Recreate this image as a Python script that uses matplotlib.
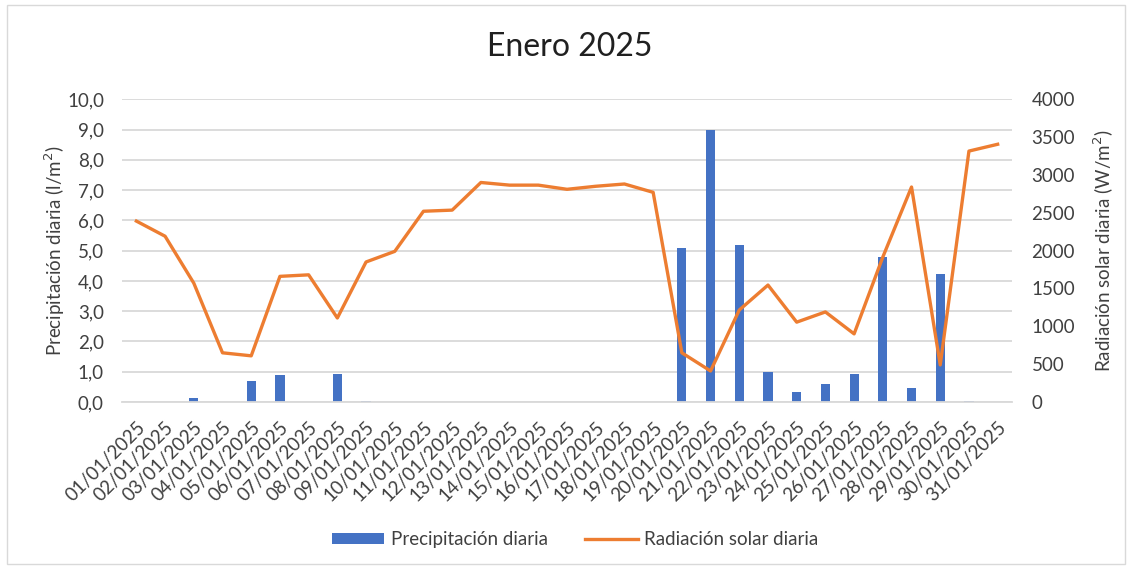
import matplotlib
matplotlib.use("Agg")
import matplotlib.pyplot as plt
from matplotlib.patches import Rectangle
from matplotlib.ticker import FuncFormatter
import numpy as np

plt.rcParams["font.family"] = ["Lato", "DejaVu Sans"]

# Enero 2025, one value per day
dates = [f"{d:02d}/01/2025" for d in range(1, 32)]

precipitacion = [
    0.0, 0.0, 0.12, 0.0, 0.69, 0.89, 0.0, 0.91, 0.02, 0.0,
    0.0, 0.0, 0.0, 0.0, 0.0, 0.0, 0.0, 0.0, 0.0, 5.1,
    9.0, 5.17, 0.98, 0.34, 0.59, 0.91, 4.8, 0.46, 4.24, 0.02,
    0.0,
]

radiacion = [
    2390, 2190, 1570, 650, 610, 1660, 1680, 1110, 1850, 1990,
    2520, 2535, 2900, 2865, 2865, 2810, 2850, 2880, 2770, 650,
    410, 1215, 1545, 1055, 1190, 900, 1915, 2840, 490, 3315,
    3405,
]

BAR_COLOR = "#4472C4"
LINE_COLOR = "#ED7D31"
GRID_COLOR = "#D9D9D9"
TEXT_COLOR = "#404040"
FS = 13.5


def main():
    fig = plt.figure(figsize=(11.32, 5.67), dpi=100)

    # light frame around the whole chart, like the Excel chart area
    fig.patches.append(
        Rectangle((0.006, 0.006), 0.988, 0.986, transform=fig.transFigure,
                  fill=False, edgecolor=GRID_COLOR, linewidth=1.0)
    )

    ax = fig.add_axes([0.1078, 0.291, 0.7862, 0.534])
    x = np.arange(len(dates))

    ax.bar(x, precipitacion, width=0.32, color=BAR_COLOR,
           label="Precipitación diaria", zorder=2)
    ax.set_xlim(-0.5, len(dates) - 0.5)
    ax.set_ylim(0, 10)
    ax.set_yticks(np.arange(0, 10.5, 1.0))
    ax.yaxis.set_major_formatter(
        FuncFormatter(lambda v, _: f"{v:.1f}".replace(".", ","))
    )
    ax.grid(axis="y", color=GRID_COLOR, linewidth=1.3, zorder=0)
    ax.set_axisbelow(True)

    ax.set_xticks(x)
    ax.set_xticklabels(dates, rotation=45, ha="right",
                       rotation_mode="anchor", fontsize=FS, color=TEXT_COLOR)
    ax.tick_params(axis="y", length=0, pad=13, labelsize=FS,
                   labelcolor=TEXT_COLOR)
    ax.tick_params(axis="x", length=0, pad=12)
    for side in ["top", "right", "left"]:
        ax.spines[side].set_visible(False)
    ax.spines["bottom"].set_color(GRID_COLOR)
    ax.spines["bottom"].set_linewidth(1.3)

    ax.set_ylabel("Precipitación diaria (l/m$^2$)", fontsize=FS,
                  color=TEXT_COLOR)
    ax.yaxis.set_label_coords(-0.062, 0.5)

    ax2 = ax.twinx()
    ax2.plot(x, radiacion, color=LINE_COLOR, linewidth=2.4,
             label="Radiación solar diaria", zorder=3)
    ax2.set_ylim(0, 4000)
    ax2.set_yticks(np.arange(0, 4001, 500))
    ax2.tick_params(axis="y", length=0, pad=14, labelsize=FS,
                    labelcolor=TEXT_COLOR)
    for side in ["top", "right", "left", "bottom"]:
        ax2.spines[side].set_visible(False)
    ax2.set_ylabel("Radiación solar diaria (W/m$^2$)", fontsize=FS,
                   color=TEXT_COLOR)
    ax2.yaxis.set_label_coords(1.090, 0.5)

    fig.text(0.5035, 0.917, "Enero 2025", ha="center", va="center",
             fontsize=23, color="#202020")

    h1, l1 = ax.get_legend_handles_labels()
    h2, l2 = ax2.get_legend_handles_labels()
    fig.legend(h1 + h2, l1 + l2, loc="center", ncol=2,
               bbox_to_anchor=(0.508, 0.048), frameon=False,
               fontsize=FS, handlelength=2.8, handleheight=0.55,
               handletextpad=0.35, columnspacing=2.0,
               labelcolor=TEXT_COLOR)

    fig.savefig("out.png", dpi=100)
    plt.close(fig)


if __name__ == "__main__":
    main()
